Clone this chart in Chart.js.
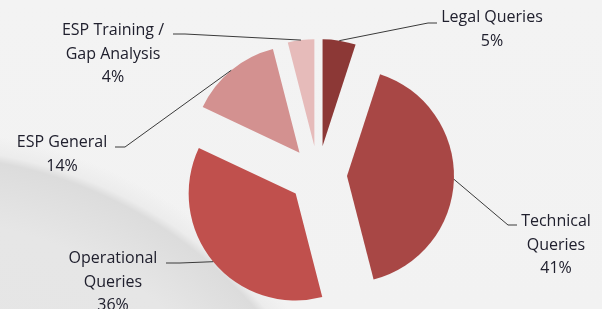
<!DOCTYPE html>
<html>
<head>
<meta charset="utf-8">
<script src="https://cdn.jsdelivr.net/npm/chart.js@4.4.0/dist/chart.umd.min.js"></script>
<style>
  html, body { margin: 0; padding: 0; }
  body {
    width: 602px; height: 309px; overflow: hidden;
    background:
      radial-gradient(circle at -80px 600px, #e4e4e4 0px, #e6e6e6 380px, #dcdcdc 444px, #ececec 452px, rgba(243,243,243,0) 470px),
      linear-gradient(180deg, #f3f3f3 0%, #f2f2f2 100%);
  }
  #wrap { position: relative; width: 602px; height: 309px; }
</style>
</head>
<body>
<div id="wrap"><canvas id="pie" width="602" height="309"></canvas></div>
<script>
// data
const categories = ["Legal Queries", "Technical Queries", "Operational Queries", "ESP General", "ESP Training / Gap Analysis"];
const shares = [5, 41, 36, 14, 4];
const labelLines = [["Legal Queries"], ["Technical", "Queries"], ["Operational", "Queries"], ["ESP General"], ["ESP Training /", "Gap Analysis"]];
const sliceColors = ["#8c3836", "#a84745", "#c0504d", "#d39190", "#e6bbba"];

// where each label sits (text centre x, first baseline y) and its leader elbow
const labelPos = [
  { x: 492, y: 22, elbow: [428, 23], end: [437, 23] },
  { x: 556, y: 226, elbow: [508, 225], end: [517, 225] },
  { x: 113, y: 263, elbow: [180, 263], end: [166, 263] },
  { x: 62, y: 147, elbow: [125, 147], end: [115, 147] },
  { x: 113, y: 35, elbow: [185, 34], end: [173, 34] }
];
const EXPLODE = 29;
const LINE_H = 23.5;

// ----------------------------
// draw slices pushed out from the centre
// ----------------------------
const explodePlugin = {
  id: "explode",
  beforeDatasetsDraw(chart) {
    const ctx = chart.ctx;
    chart.getDatasetMeta(0).data.forEach(arc => {
      const mid = (arc.startAngle + arc.endAngle) / 2;
      ctx.save();
      ctx.translate(Math.cos(mid) * EXPLODE, Math.sin(mid) * EXPLODE);
      arc.draw(ctx);
      ctx.restore();
    });
    return false;
  }
};

// ----------------------------
// labels + leader lines
// ----------------------------
const labelPlugin = {
  id: "pieLabels",
  afterDraw(chart) {
    const ctx = chart.ctx;
    chart.getDatasetMeta(0).data.forEach((arc, i) => {
      const mid = (arc.startAngle + arc.endAngle) / 2;
      const r = arc.outerRadius + EXPLODE;
      const ax = arc.x + Math.cos(mid) * r;
      const ay = arc.y + Math.sin(mid) * r;
      const p = labelPos[i];
      ctx.save();
      ctx.strokeStyle = "#3a3a3a";
      ctx.lineWidth = 1;
      ctx.beginPath();
      ctx.moveTo(ax, ay);
      ctx.lineTo(p.elbow[0], p.elbow[1]);
      ctx.lineTo(p.end[0], p.end[1]);
      ctx.stroke();

      ctx.fillStyle = "#20202e";
      ctx.font = "16px 'Open Sans'";
      ctx.textAlign = "center";
      ctx.textBaseline = "alphabetic";
      const lines = labelLines[i].concat([shares[i] + "%"]);
      lines.forEach((t, k) => ctx.fillText(t, p.x, p.y + k * LINE_H));
      ctx.restore();
    });
  }
};

new Chart(document.getElementById("pie"), {
  type: "pie",
  data: {
    labels: categories,
    datasets: [{
      data: shares,
      backgroundColor: sliceColors,
      borderWidth: 0
    }]
  },
  options: {
    responsive: false,
    animation: false,
    radius: 107,
    layout: { padding: { left: 168, right: 134, top: 41, bottom: 0 } },
    plugins: { legend: { display: false }, tooltip: { enabled: false } }
  },
  plugins: [explodePlugin, labelPlugin]
});
</script>
</body>
</html>
